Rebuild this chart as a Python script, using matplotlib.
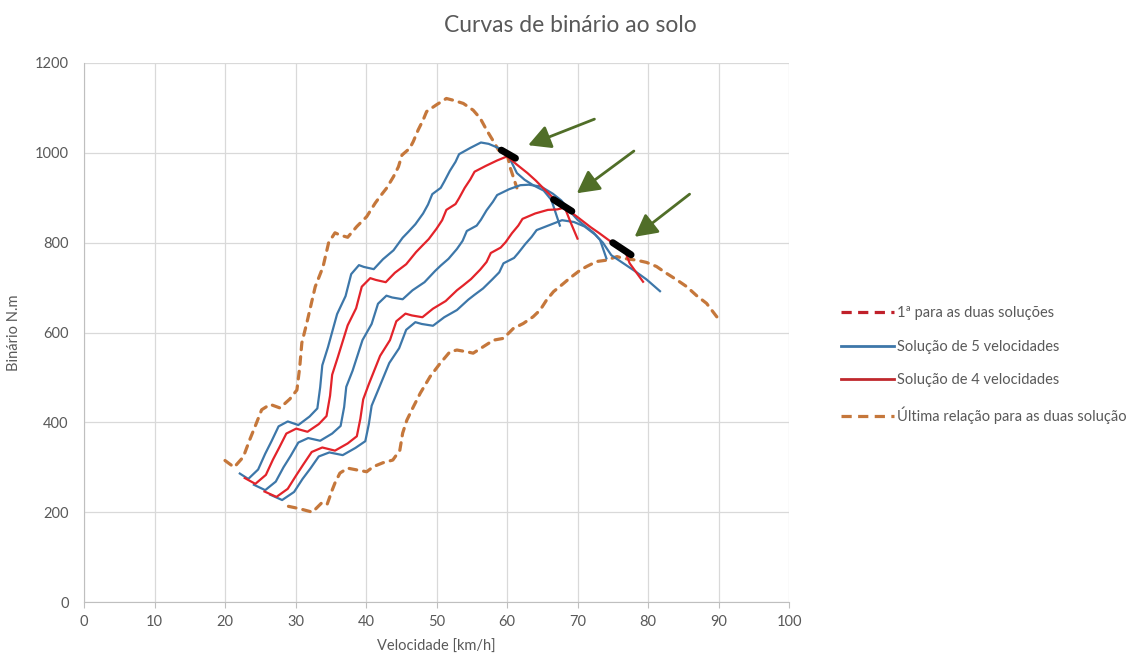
import matplotlib.pyplot as plt
from matplotlib.lines import Line2D

plt.rcParams['font.family'] = ['Lato', 'DejaVu Sans']

# 1ª relação (comum às duas soluções)
primeira_v = [20.0, 21.3, 22.6, 23.5, 24.3, 25.2, 26.4, 27.8, 29.2, 30.2, 30.6, 30.9, 31.6, 32.8,
              33.9, 34.7, 35.6, 36.3, 37.4, 38.7, 40.1, 41.3, 42.0, 42.9, 43.9, 44.6, 45.1, 46.2,
              46.7, 47.4, 48.1, 48.6, 50.0, 51.4, 52.4, 53.8, 55.2, 56.2, 57.1, 58.1, 58.8, 60.0,
              60.5, 61.4]
primeira_t = [315, 300, 323, 361, 392, 428, 440, 432, 452, 472, 523, 577, 621, 702,
              746, 800, 822, 817, 812, 836, 858, 888, 903, 921, 947, 969, 995, 1010,
              1025, 1051, 1073, 1092, 1107, 1121, 1117, 1110, 1095, 1077, 1051, 1025, 1006, 998,
              965, 922]

# última relação (comum às duas soluções)
ultima_v = [29.0, 30.5, 32.4, 33.8, 34.5, 35.2, 35.6, 36.3, 37.4, 38.7, 40.1, 41.0, 42.4, 43.8,
            44.8, 45.2, 45.8, 46.7, 47.7, 49.1, 50.5, 51.9, 52.9, 54.3, 55.2, 56.6, 58.1, 59.5,
            60.9, 62.3, 63.7, 64.7, 65.6, 66.6, 68.0, 68.9, 70.4, 71.3, 72.7, 74.1, 75.6, 76.5,
            78.4, 79.8, 81.2, 82.6, 84.1, 85.5, 86.9, 88.3, 89.9]
ultima_t = [213, 208, 200, 222, 218, 249, 265, 287, 298, 294, 290, 301, 310, 316,
            338, 376, 405, 434, 465, 502, 531, 557, 561, 557, 554, 568, 583, 587,
            609, 620, 635, 650, 672, 691, 709, 721, 739, 747, 758, 761, 769, 765,
            761, 756, 747, 732, 717, 702, 682, 665, 632]

# solução de 5 velocidades: 2ª, 3ª, 4ª
azul1_v = [22.1, 23.3, 24.7, 25.7, 26.6, 27.6, 28.9, 30.4, 32.0, 33.1, 33.5, 33.8, 34.6, 35.9,
           37.1, 37.9, 39.0, 39.7, 41.1, 42.4, 43.9, 45.2, 46.0, 47.0, 48.1, 48.8, 49.4, 50.6,
           51.1, 51.9, 52.7, 53.2, 54.8, 56.3, 57.4, 58.9, 60.0, 61.4, 62.5, 63.7, 65.2, 66.3, 67.5]
azul1_t = [286, 274, 295, 330, 358, 391, 402, 394, 413, 431, 478, 527, 567, 641,
           681, 730, 750, 746, 741, 763, 783, 811, 824, 841, 865, 885, 908, 922,
           936, 960, 980, 997, 1011, 1023, 1020, 1010, 1000, 955, 940, 928, 916, 895, 838]

azul2_v = [24.1, 25.7, 27.2, 28.3, 29.3, 30.4, 31.8, 33.5, 35.2, 36.4, 36.9, 37.2, 38.1, 39.5,
           40.8, 41.7, 42.9, 43.7, 45.2, 46.6, 48.3, 49.8, 50.6, 51.7, 52.9, 53.7, 54.3, 55.7,
           56.3, 57.1, 58.0, 58.6, 60.3, 61.9, 63.1, 64.8, 66.5, 67.7, 68.8, 70.0, 71.0, 72.3,
           73.2, 74.1]
azul2_t = [261, 249, 268, 300, 325, 355, 365, 359, 375, 392, 434, 479, 515, 583,
           619, 664, 682, 678, 674, 694, 712, 737, 749, 764, 786, 804, 826, 838,
           851, 872, 891, 906, 919, 928, 929, 925, 909, 894, 872, 851, 838, 822,
           806, 765]

azul3_v = [26.4, 28.1, 29.8, 31.0, 32.1, 33.3, 34.8, 36.7, 38.5, 39.9, 40.4, 40.8, 41.7, 43.3,
           44.7, 45.7, 47.0, 47.9, 49.5, 51.1, 52.9, 54.5, 55.4, 56.6, 57.9, 58.9, 59.5, 61.0,
           61.6, 62.6, 63.5, 64.2, 66.0, 67.8, 69.5, 71.0, 72.5, 73.6, 74.8, 76.7, 78.3, 79.8,
           81.7]
azul3_t = [239, 227, 245, 274, 297, 324, 333, 327, 343, 358, 396, 437, 471, 532,
           565, 606, 623, 619, 615, 634, 650, 673, 684, 698, 718, 734, 754, 766,
           777, 797, 813, 828, 839, 850, 846, 836, 818, 800, 772, 752, 735, 718,
           692]

# solução de 4 velocidades: 2ª, 3ª
verm1_v = [22.8, 24.3, 25.8, 26.8, 27.7, 28.7, 30.1, 31.7, 33.3, 34.4, 34.9, 35.2, 36.0, 37.4,
           38.6, 39.4, 40.6, 41.4, 42.8, 44.1, 45.7, 47.1, 47.9, 48.9, 50.0, 50.8, 51.4, 52.7,
           53.2, 54.0, 54.8, 55.4, 57.0, 58.6, 60.0, 61.3, 62.9, 64.1, 65.1, 66.2, 67.0, 68.2,
           69.0, 70.0]
verm1_t = [276, 263, 283, 317, 344, 375, 386, 379, 396, 414, 459, 506, 545, 616,
           654, 702, 721, 717, 712, 733, 752, 779, 792, 808, 831, 850, 873, 886,
           899, 922, 941, 958, 971, 983, 992, 975, 955, 938, 922, 905, 893, 878,
           846, 809]

verm2_v = [25.6, 27.3, 28.9, 30.1, 31.1, 32.3, 33.8, 35.6, 37.4, 38.7, 39.2, 39.6, 40.4, 42.0,
           43.4, 44.3, 45.6, 46.5, 48.0, 49.5, 51.3, 52.9, 53.8, 54.9, 56.2, 57.1, 57.7, 59.1,
           59.8, 60.7, 61.6, 62.2, 64.0, 65.8, 67.1, 68.2, 70.0, 71.9, 73.1, 74.4, 75.3, 76.8,
           77.4, 79.3]
verm2_t = [246, 234, 252, 282, 306, 334, 344, 337, 353, 369, 408, 451, 485, 548,
           583, 625, 642, 638, 634, 653, 670, 694, 705, 719, 740, 757, 777, 789,
           801, 821, 838, 853, 865, 873, 874, 878, 857, 834, 821, 806, 796, 779,
           754, 713]

# pontos de passagem de caixa (manchas pretas) e setas
mancha_v = [(59.2, 61.2), (66.6, 69.2), (75.0, 77.6)]
mancha_t = [(1006, 988), (896, 870), (800, 773)]
seta_cauda = [(72.4, 1075), (78.0, 1004), (85.9, 908)]
seta_ponta = [(63.0, 1017), (69.9, 910), (78.1, 813)]

legenda = ['1ª para as duas soluções', 'Solução de 5 velocidades',
           'Solução de 4 velocidades', 'Última relação para as duas solução']

cor_azul = '#3d77a9'
cor_verm = '#e3232a'
cor_lar = '#c5773b'
cor_texto = '#595959'

fig = plt.figure(figsize=(11.47, 6.64), dpi=100)
ax = fig.add_axes([84 / 1147, 62 / 664, 705 / 1147, 539 / 664])

tracejado = dict(lw=2.3, dashes=(2.4, 2.2), color=cor_lar, dash_capstyle='round')
ax.plot(primeira_v, primeira_t, **tracejado, zorder=2)
ax.plot(ultima_v, ultima_t, **tracejado, zorder=2)

for v, t in [(azul1_v, azul1_t), (azul2_v, azul2_t), (azul3_v, azul3_t)]:
    ax.plot(v, t, color=cor_azul, lw=1.6, zorder=3)
for v, t in [(verm1_v, verm1_t), (verm2_v, verm2_t)]:
    ax.plot(v, t, color=cor_verm, lw=1.6, zorder=4)

for v, t in zip(mancha_v, mancha_t):
    ax.plot(v, t, color='black', lw=5, solid_capstyle='round', zorder=5)

for c, p in zip(seta_cauda, seta_ponta):
    ax.annotate('', xy=p, xytext=c, zorder=6,
                arrowprops=dict(arrowstyle='-|>,head_length=0.75,head_width=0.4',
                                color='#506e28', lw=2, mutation_scale=18, shrinkA=0, shrinkB=0))

ax.set_xlim(0, 100)
ax.set_ylim(0, 1200)
ax.set_xticks(range(0, 101, 10))
ax.set_yticks(range(0, 1201, 200))
ax.grid(True, color='#d9d9d9', lw=0.9)
ax.set_axisbelow(True)
for s in ['top', 'right']:
    ax.spines[s].set_visible(False)
for s in ['left', 'bottom']:
    ax.spines[s].set_color('#bfbfbf')
ax.tick_params(axis='x', colors=cor_texto, labelsize=10.5, length=4, color='#bfbfbf', pad=5)
ax.tick_params(axis='y', colors=cor_texto, labelsize=10.5, length=0, pad=11)

ax.set_xlabel('Velocidade [km/h]', color=cor_texto, fontsize=10.5, labelpad=8)
ax.set_ylabel('Binário N.m', color=cor_texto, fontsize=10.5, labelpad=10)
fig.text(0.497, 0.962, 'Curvas de binário ao solo', ha='center', va='center',
         color=cor_texto, fontsize=16.5)

handles = [
    Line2D([], [], color='#c0202a', lw=2.3, dashes=(3.2, 2.0)),
    Line2D([], [], color=cor_azul, lw=2),
    Line2D([], [], color='#c0282d', lw=2),
    Line2D([], [], color=cor_lar, lw=2.3, dashes=(3.2, 2.0)),
]
fig.legend(handles, legenda, loc='center left', bbox_to_anchor=(0.722, 0.45),
           frameon=False, fontsize=10.5, labelcolor=cor_texto, handlelength=3.6,
           handletextpad=0.2, labelspacing=1.35)

fig.savefig('out.png', dpi=100)
